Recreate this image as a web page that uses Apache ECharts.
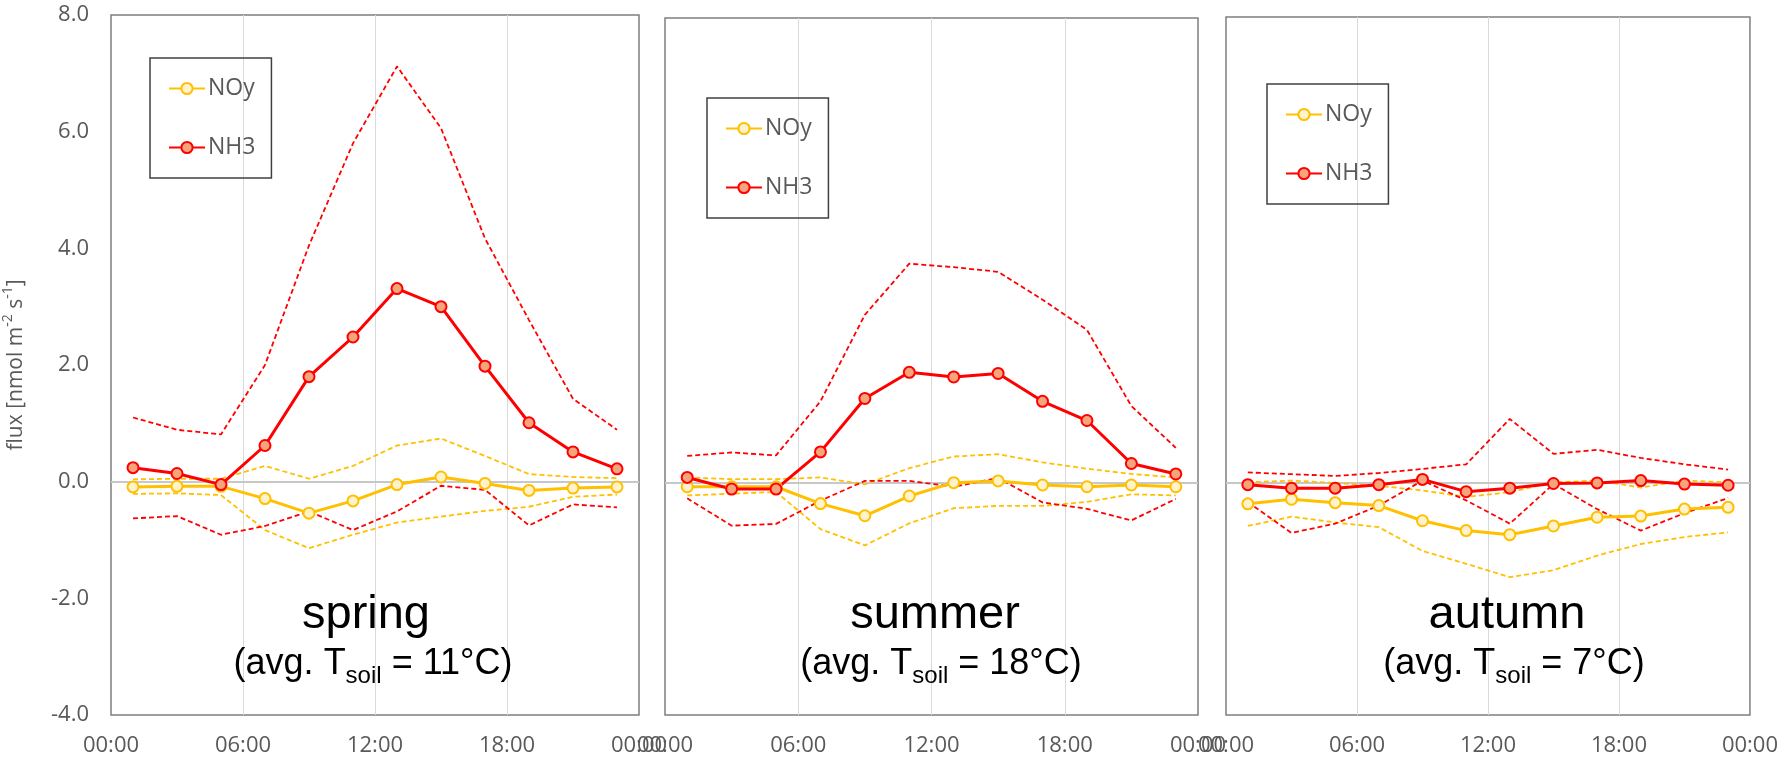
<!DOCTYPE html>
<html>
<head>
<meta charset="utf-8">
<script src="https://cdn.jsdelivr.net/npm/echarts@6/dist/echarts.min.js"></script>
<style>
  html, body { margin: 0; padding: 0; background: #fff; }
  #chart { width: 1781px; height: 759px; }
</style>
</head>
<body>
<div id="chart"></div>
<script>
// hour of day of each point (2 h bins)
const hours = [1, 3, 5, 7, 9, 11, 13, 15, 17, 19, 21, 23];
const xTicks = ['00:00', '06:00', '12:00', '18:00', '00:00'];

// spring
const springNH3   = [0.24, 0.14, -0.05, 0.62, 1.80, 2.48, 3.31, 3.00, 1.98, 1.01, 0.51, 0.22];
const springNH3Hi = [1.10, 0.89, 0.81, 2.00, 4.05, 5.80, 7.12, 6.06, 4.17, 2.77, 1.42, 0.89];
const springNH3Lo = [-0.63, -0.59, -0.91, -0.76, -0.51, -0.83, -0.51, -0.07, -0.14, -0.75, -0.39, -0.44];
const springNOy   = [-0.09, -0.08, -0.08, -0.29, -0.54, -0.33, -0.05, 0.08, -0.03, -0.15, -0.11, -0.09];
const springNOyHi = [0.04, 0.05, 0.05, 0.27, 0.05, 0.27, 0.62, 0.74, 0.44, 0.13, 0.08, 0.06];
const springNOyLo = [-0.21, -0.20, -0.23, -0.83, -1.14, -0.91, -0.70, -0.60, -0.50, -0.43, -0.26, -0.22];

// summer
const summerNH3   = [0.09, -0.11, -0.11, 0.53, 1.45, 1.90, 1.82, 1.88, 1.40, 1.07, 0.33, 0.15];
const summerNH3Hi = [0.46, 0.52, 0.47, 1.40, 2.89, 3.77, 3.71, 3.63, 3.15, 2.63, 1.32, 0.60];
const summerNH3Lo = [-0.27, -0.74, -0.71, -0.31, 0.03, 0.03, -0.07, 0.08, -0.34, -0.45, -0.65, -0.28];
const summerNOy   = [-0.07, -0.07, -0.07, -0.36, -0.57, -0.23, 0.00, 0.03, -0.04, -0.07, -0.04, -0.07];
const summerNOyHi = [0.09, 0.06, 0.06, 0.09, -0.03, 0.25, 0.45, 0.49, 0.35, 0.24, 0.15, 0.09];
const summerNOyLo = [-0.22, -0.19, -0.16, -0.80, -1.08, -0.70, -0.44, -0.40, -0.40, -0.33, -0.20, -0.22];

// autumn
const autumnNH3   = [-0.04, -0.10, -0.10, -0.04, 0.05, -0.16, -0.10, -0.02, -0.01, 0.03, -0.03, -0.05];
const autumnNH3Hi = [0.17, 0.14, 0.11, 0.16, 0.23, 0.31, 1.09, 0.49, 0.56, 0.42, 0.31, 0.22];
const autumnNH3Lo = [-0.34, -0.87, -0.71, -0.40, 0.03, -0.31, -0.71, -0.03, -0.46, -0.83, -0.53, -0.27];
const autumnNOy   = [-0.37, -0.29, -0.35, -0.40, -0.66, -0.83, -0.90, -0.75, -0.60, -0.58, -0.46, -0.43];
const autumnNOyHi = [0.00, 0.03, -0.01, -0.06, -0.14, -0.25, -0.17, 0.00, 0.03, -0.09, 0.03, 0.00];
const autumnNOyLo = [-0.75, -0.59, -0.69, -0.77, -1.18, -1.40, -1.63, -1.51, -1.26, -1.06, -0.94, -0.86];

const seasonNames = ['spring', 'summer', 'autumn'];
const seasonTsoil = ['11', '18', '7'];

const panelData = [
  { nh3: springNH3, nh3Hi: springNH3Hi, nh3Lo: springNH3Lo, noy: springNOy, noyHi: springNOyHi, noyLo: springNOyLo },
  { nh3: summerNH3, nh3Hi: summerNH3Hi, nh3Lo: summerNH3Lo, noy: summerNOy, noyHi: summerNOyHi, noyLo: summerNOyLo },
  { nh3: autumnNH3, nh3Hi: autumnNH3Hi, nh3Lo: autumnNH3Lo, noy: autumnNOy, noyHi: autumnNOyHi, noyLo: autumnNOyLo }
];

// layout of the three plot boxes
const boxes = [
  { left: 109, top: 15, width: 530, height: 700 },
  { left: 665, top: 18, width: 533, height: 697 },
  { left: 1226, top: 17, width: 530, height: 698 }
];
const legendPos = [{ left: 150, top: 58 }, { left: 707, top: 98 }, { left: 1267, top: 84 }];
const titleX = [366, 935, 1507];
const subX = [373, 941, 1514];

const RED = '#ff0000';
const GOLD = '#ffc000';
const GREY = '#595959';
const FONT = '"Open Sans", "Liberation Sans", sans-serif';
const SANS = '"Liberation Sans", Arial, sans-serif';

function pairs(arr) {
  return hours.map((h, i) => [h, arr[i]]);
}

function dashed(name, arr, color, idx) {
  return {
    name: name, type: 'line', xAxisIndex: idx, yAxisIndex: idx,
    data: pairs(arr), symbol: 'none', silent: true,
    lineStyle: { color: color, width: 1.8, type: [5, 3] },
    z: 2
  };
}

function solid(name, arr, color, fill, idx) {
  return {
    name: name, type: 'line', xAxisIndex: idx, yAxisIndex: idx,
    data: pairs(arr), symbol: 'circle', symbolSize: 11,
    lineStyle: { color: color, width: 3 },
    itemStyle: { color: fill, borderColor: color, borderWidth: 2 },
    z: 3
  };
}

const grids = [], xAxes = [], yAxes = [], series = [], legends = [], graphics = [];

boxes.forEach((b, i) => {
  grids.push(Object.assign({ show: true, borderColor: '#7f7f7f', borderWidth: 1.5, backgroundColor: 'transparent' }, b));

  xAxes.push({
    gridIndex: i, type: 'value', min: 0, max: 24, interval: 6,
    axisLine: { show: false }, axisTick: { show: false },
    splitLine: { show: true, showMinLine: false, showMaxLine: false, lineStyle: { color: '#d9d9d9', width: 1 } },
    axisLabel: {
      color: GREY, fontSize: 22, fontFamily: FONT, margin: 20,
      showMinLabel: true, showMaxLabel: true,
      formatter: v => xTicks[v / 6]
    }
  });

  yAxes.push({
    gridIndex: i, type: 'value', min: -4, max: 8, interval: 2,
    axisLine: { show: false }, axisTick: { show: false }, splitLine: { show: false },
    axisLabel: { show: i === 0, color: GREY, fontSize: 22, fontFamily: FONT, margin: 22, formatter: v => v.toFixed(1) },
    name: i === 0 ? '{a|flux [nmol m}{b|-2}{a| s}{b|-1}{a|]}' : '',
    nameLocation: 'middle', nameGap: 80,
    nameTextStyle: {
      rich: {
        a: { fontSize: 21, fontFamily: FONT, color: GREY, lineHeight: 30, verticalAlign: 'middle' },
        b: { fontSize: 14, fontFamily: FONT, color: GREY, lineHeight: 14, verticalAlign: 'top' }
      }
    }
  });

  const d = panelData[i];
  series.push(dashed('NOy upper', d.noyHi, GOLD, i));
  series.push(dashed('NOy lower', d.noyLo, GOLD, i));
  series.push(dashed('NH3 upper', d.nh3Hi, RED, i));
  series.push(dashed('NH3 lower', d.nh3Lo, RED, i));
  const noy = solid('NOy', d.noy, GOLD, '#fff2cc', i);
  // zero line
  noy.markLine = {
    silent: true, symbol: 'none', label: { show: false },
    lineStyle: { color: '#c8c8c8', width: 2, type: 'solid' },
    data: [{ yAxis: 0 }], z: 1
  };
  series.push(noy);
  series.push(solid('NH3', d.nh3, RED, '#f4a57c', i));

  legends.push({
    left: legendPos[i].left, top: legendPos[i].top, orient: 'vertical',
    data: ['NOy', 'NH3'], selectedMode: false,
    itemWidth: 36, itemHeight: 14, itemGap: 36,
    padding: [19, 16, 19, 18],
    borderColor: '#404040', borderWidth: 1.5,
    textStyle: { color: GREY, fontSize: 23, fontFamily: FONT, padding: [0, 0, 0, -2] }
  });

  graphics.push({
    type: 'text', x: titleX[i], y: 615, z: 10,
    style: { text: seasonNames[i], fontSize: 47, fontFamily: SANS, fill: '#000', align: 'center', verticalAlign: 'middle' }
  });
  graphics.push({
    type: 'text', x: subX[i], y: 664, z: 10,
    style: {
      text: '{m|(avg. T}{s|soil}{m| = ' + seasonTsoil[i] + '°C)}',
      align: 'center', verticalAlign: 'middle',
      rich: {
        m: { fontSize: 36, fontFamily: SANS, fill: '#000', lineHeight: 48, verticalAlign: 'middle' },
        s: { fontSize: 24, fontFamily: SANS, fill: '#000', lineHeight: 24, verticalAlign: 'bottom' }
      }
    }
  });
});

const myChart = echarts.init(document.getElementById('chart'), null, { renderer: 'canvas' });
myChart.setOption({
  animation: false,
  backgroundColor: '#fff',
  grid: grids,
  xAxis: xAxes,
  yAxis: yAxes,
  legend: legends,
  series: series,
  graphic: graphics
});
</script>
</body>
</html>
